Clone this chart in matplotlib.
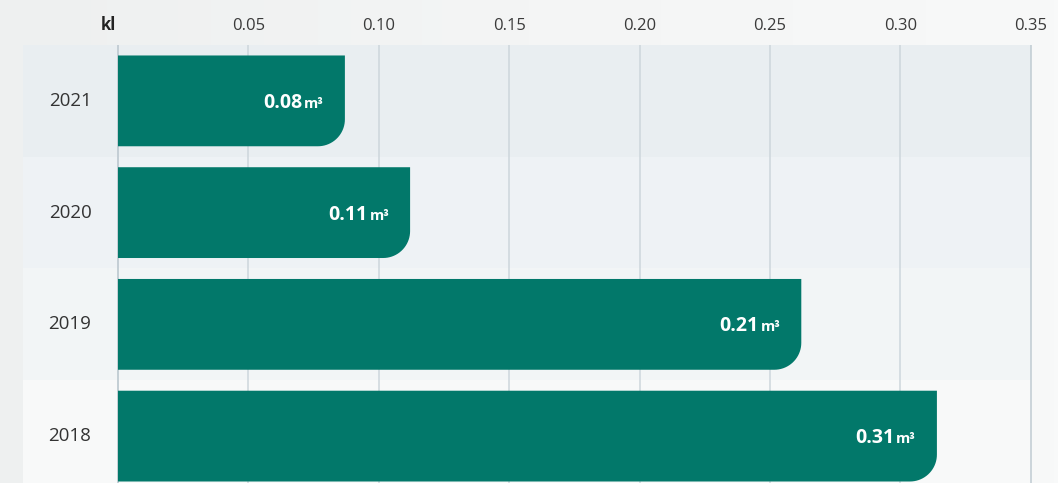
import numpy as np
import matplotlib.pyplot as plt
from matplotlib.patches import Polygon, Rectangle
from matplotlib.colors import LinearSegmentedColormap

plt.rcParams['font.family'] = ['Open Sans', 'DejaVu Sans']

years = ["2021", "2020", "2019", "2018"]
values = [0.087, 0.112, 0.262, 0.314]
value_labels = ["0.08", "0.11", "0.21", "0.31"]
ticks = [0.05, 0.10, 0.15, 0.20, 0.25, 0.30, 0.35]
tick_labels = ["0.05", "0.10", "0.15", "0.20", "0.25", "0.30", "0.35"]
band_colors = ["#e9eef1", "#eef2f5", "#f2f5f6", "#f8f9f9"]

BAR = "#02786a"
W, H = 1058, 483
px_x = 2608.0   # pixels per kl
px_y = 112.0    # pixels per row

fig = plt.figure(figsize=(W / 100, H / 100), dpi=100)

# soft horizontal background gradient
bg = fig.add_axes([0, 0, 1, 1], zorder=-10)
cmap = LinearSegmentedColormap.from_list("bg", ["#eef0f0", "#f4f5f5", "#f8f9f9"])
bg.imshow(np.linspace(0, 1, 256)[None, :], aspect="auto", cmap=cmap, extent=[0, 1, 0, 1])
bg.axis("off")

top = (H - 45) / H
ax = fig.add_axes([0, 0, 1, top])
ax.patch.set_alpha(0)
x0 = -118 / px_x
ax.set_xlim(x0, x0 + W / px_x)
ax.set_ylim(3 + (483 - 436) / px_y, -0.5)

band_left = (23 - 118) / px_x
for i, c in enumerate(band_colors):
    ax.add_patch(Rectangle((band_left, i - 0.5), 0.35 - band_left, 1, facecolor=c,
                           edgecolor="none", zorder=0))

for t in ticks:
    ax.axvline(t, color="#cdd6dc" if t < 0.35 else "#bfcbd2", lw=1.1, zorder=1)
ax.axvline(0, color="#c3ced5", lw=1.4, zorder=1)


def rounded_bar(y, w, h, r_px=27):
    rx, ry = r_px / px_x, r_px / px_y
    top_y, bot_y = y - h / 2, y + h / 2
    pts = [(0, top_y), (w, top_y), (w, bot_y - ry)]
    th = np.linspace(0, np.pi / 2, 20)
    cx, cy = w - rx, bot_y - ry
    pts += [(cx + rx * np.cos(a), cy + ry * np.sin(a)) for a in th]
    pts += [(0, bot_y)]
    return Polygon(pts, closed=True, facecolor=BAR, edgecolor="none", zorder=3)


renderer = fig.canvas.get_renderer()
bar_h = 91 / px_y
for i, (yr, v, lab) in enumerate(zip(years, values, value_labels)):
    ax.add_patch(rounded_bar(i, v, bar_h))
    base = (v, i + 7 / px_y)
    unit = ax.annotate("m³", xy=base, xytext=(-15, 0), textcoords="offset points",
                       ha="right", va="baseline", color="white", fontsize=10.5,
                       fontweight="bold", zorder=4)
    uw = unit.get_window_extent(renderer).width * 72 / fig.dpi
    ax.annotate(lab, xy=base, xytext=(-15 - uw - 1.5, 0), textcoords="offset points",
                ha="right", va="baseline", color="white", fontsize=14, fontweight="bold", zorder=4)
    ax.text(-48 / px_x, i, yr, ha="center", va="center", fontsize=13.5, color="#333333")

ax.xaxis.tick_top()
ax.set_xticks(ticks)
ax.set_xticklabels(tick_labels, fontsize=12, color="#3a3a3a")
ax.tick_params(axis="x", length=0, pad=8)
ax.set_yticks([])
ax.annotate("kl", xy=(0, 1), xycoords=("data", "axes fraction"), xytext=(-7, 8),
            textcoords="offset points", ha="center", va="bottom", fontsize=12,
            fontweight="bold", color="#222222")
for s in ax.spines.values():
    s.set_visible(False)

fig.savefig("out.png", dpi=100)
